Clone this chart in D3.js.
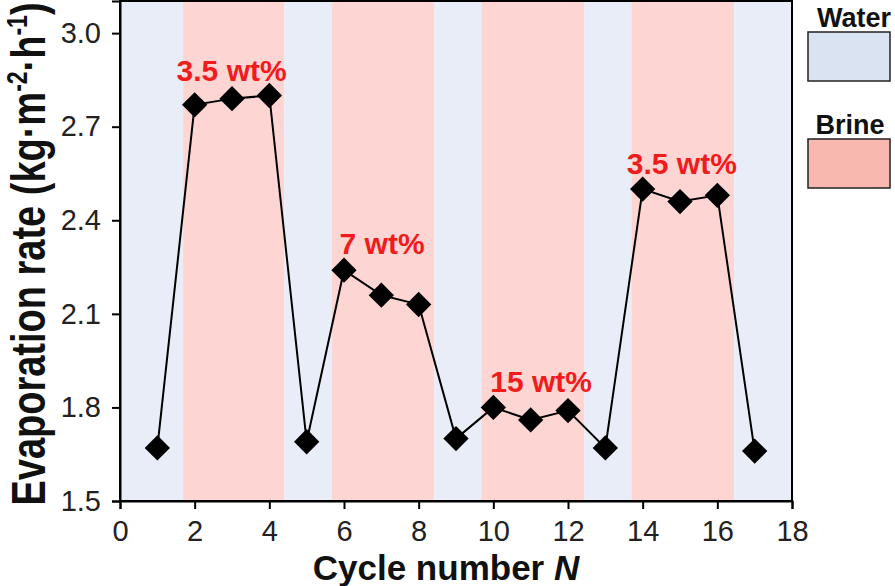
<!DOCTYPE html>
<html>
<head>
<meta charset="utf-8">
<script src="https://cdn.jsdelivr.net/npm/d3@7"></script>
<style>
  body { margin: 0; background: #fff; }
  svg text { font-family: "Liberation Sans", Arial, sans-serif; }
</style>
</head>
<body>
<svg id="chart" width="895" height="586"></svg>
<script>
const cycles = [1, 2, 3, 4, 5, 6, 7, 8, 9, 10, 11, 12, 13, 14, 15, 16, 17];
const rates = [1.67, 2.77, 2.79, 2.80, 1.69, 2.24, 2.16, 2.13, 1.70, 1.80, 1.76, 1.79, 1.67, 2.50, 2.46, 2.48, 1.66];

// background bands
const bandStarts = [0, 1.69, 4.4, 5.67, 8.42, 9.68, 12.44, 13.7, 16.45];
const bandEnds = [1.69, 4.4, 5.67, 8.42, 9.68, 12.44, 13.7, 16.45, 18];
const bandKinds = ['Water', 'Brine', 'Water', 'Brine', 'Water', 'Brine', 'Water', 'Brine', 'Water'];

const concLabels = ['3.5 wt%', '7 wt%', '15 wt%', '3.5 wt%'];
const concX = [2.99, 7.02, 11.28, 15.05];
const concY = [2.847, 2.293, 1.851, 2.549];

const xTicks = [0, 2, 4, 6, 8, 10, 12, 14, 16, 18];
const yTicks = [1.5, 1.8, 2.1, 2.4, 2.7, 3.0];

const colors = { Water: '#e8edf7', Brine: '#fdd5d2' };
const legendColors = { Water: '#dae3f1', Brine: '#f8b8b0' };

const margin = { left: 120, right: 103, top: 1, bottom: 85 };
const svg = d3.select('#chart');
const width = 895 - margin.left - margin.right;
const height = 586 - margin.top - margin.bottom;

const x = d3.scaleLinear().domain([0, 18]).range([0, width]);
const y = d3.scaleLinear().domain([1.5, 3.103]).range([height, 0]);

const g = svg.append('g').attr('transform', `translate(${margin.left},${margin.top})`);

g.selectAll('rect.band')
  .data(bandStarts)
  .enter().append('rect')
  .attr('class', 'band')
  .attr('x', d => x(d))
  .attr('y', 0)
  .attr('width', (d, i) => x(bandEnds[i]) - x(d))
  .attr('height', height)
  .attr('fill', (d, i) => colors[bandKinds[i]]);

// frame
g.append('rect')
  .attr('width', width).attr('height', height)
  .attr('fill', 'none').attr('stroke', '#000').attr('stroke-width', 2);

const xAxis = g.append('g')
  .attr('transform', `translate(0,${height})`)
  .call(d3.axisBottom(x).tickValues(xTicks).tickSize(8).tickPadding(11).tickFormat(d3.format('d')));
const yAxis = g.append('g')
  .call(d3.axisLeft(y).tickValues(yTicks).tickSize(8).tickPadding(11).tickFormat(d3.format('.1f')));

[xAxis, yAxis].forEach(a => {
  a.select('.domain').attr('stroke-width', 2);
  a.selectAll('.tick line').attr('stroke-width', 2);
  a.selectAll('.tick text')
    .attr('font-size', 29)
    .attr('fill', '#222')
    .style('font-family', '"Liberation Sans", Arial, sans-serif');
});

const line = d3.line().x((d, i) => x(cycles[i])).y(d => y(d));
g.append('path')
  .datum(rates)
  .attr('d', line)
  .attr('fill', 'none')
  .attr('stroke', '#000')
  .attr('stroke-width', 2);

g.selectAll('path.pt')
  .data(rates)
  .enter().append('path')
  .attr('class', 'pt')
  .attr('d', d3.symbol().type(d3.symbolSquare).size(320))
  .attr('transform', (d, i) => `translate(${x(cycles[i])},${y(d)}) rotate(45)`)
  .attr('fill', '#000');

g.selectAll('text.conc')
  .data(concLabels)
  .enter().append('text')
  .attr('class', 'conc')
  .attr('x', (d, i) => x(concX[i]))
  .attr('y', (d, i) => y(concY[i]))
  .attr('text-anchor', 'middle')
  .attr('font-size', 30)
  .attr('font-weight', 'bold')
  .attr('fill', '#f01c1c')
  .text(d => d);

// axis titles
svg.append('text')
  .attr('transform', 'translate(45,254) rotate(-90) scale(1,1.28)')
  .attr('text-anchor', 'middle')
  .attr('font-size', 38)
  .attr('font-weight', 'bold')
  .attr('fill', '#111')
  .html('Evaporation rate (kg·m<tspan dy="-14" font-size="23">-2</tspan><tspan dy="14">·h</tspan><tspan dy="-14" font-size="23">-1</tspan><tspan dy="14">)</tspan>');

svg.append('text')
  .attr('x', 446)
  .attr('y', 580)
  .attr('text-anchor', 'middle')
  .attr('font-size', 35)
  .attr('font-weight', 'bold')
  .attr('fill', '#111')
  .html('Cycle number <tspan font-style="italic">N</tspan>');

// legend
const legendNames = ['Water', 'Brine'];
const legendTop = [32, 139];
const lg = svg.append('g');
lg.selectAll('rect')
  .data(legendNames)
  .enter().append('rect')
  .attr('x', 808)
  .attr('y', (d, i) => legendTop[i])
  .attr('width', 82)
  .attr('height', 49)
  .attr('fill', d => legendColors[d])
  .attr('stroke', '#222')
  .attr('stroke-width', 1.5);
lg.selectAll('text')
  .data(legendNames)
  .enter().append('text')
  .attr('x', (d, i) => [854, 850][i])
  .attr('y', (d, i) => legendTop[i] - 5)
  .attr('text-anchor', 'middle')
  .attr('font-size', 27)
  .attr('font-weight', 'bold')
  .attr('fill', '#111')
  .text(d => d);
</script>
</body>
</html>
